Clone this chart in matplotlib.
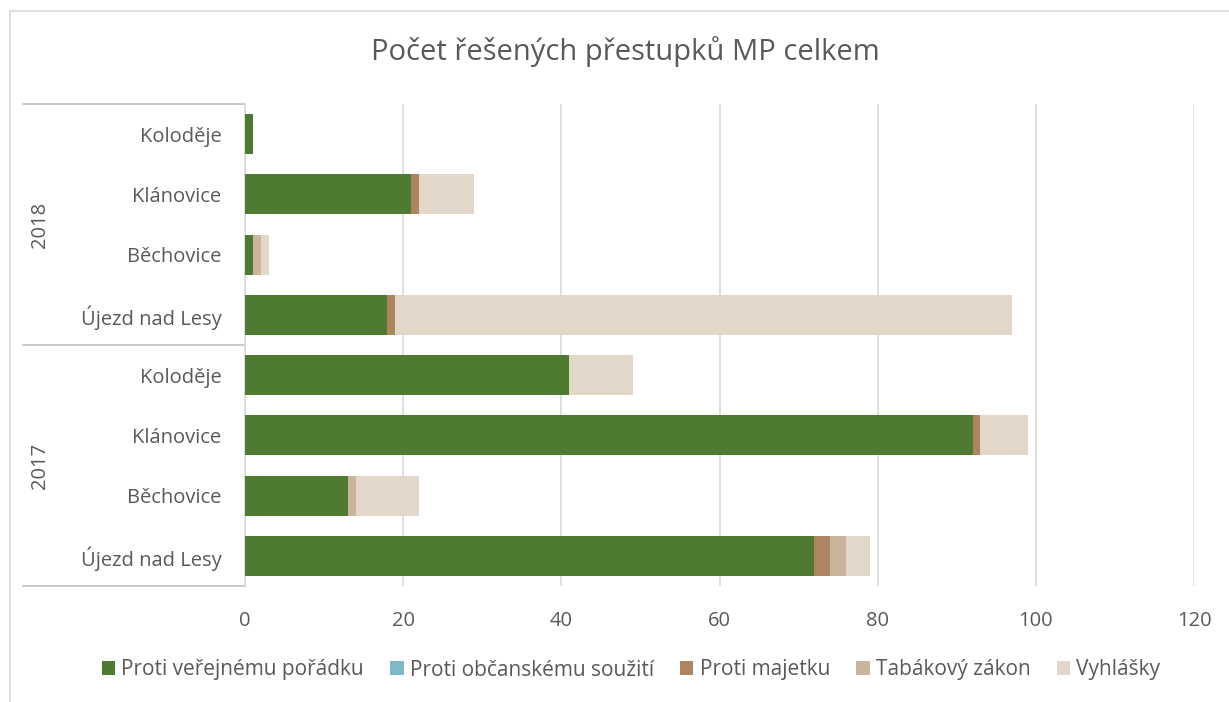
import matplotlib
matplotlib.use("Agg")
import matplotlib.pyplot as plt
from matplotlib.patches import Rectangle
import matplotlib.transforms as mtransforms
import numpy as np

plt.rcParams['font.family'] = ['Open Sans', 'DejaVu Sans']

years = ["2017", "2018"]
places = ["Újezd nad Lesy", "Běchovice", "Klánovice", "Koloděje"]
series_names = ["Proti veřejnému pořádku", "Proti občanskému soužití",
                "Proti majetku", "Tabákový zákon", "Vyhlášky"]
colors = ["#4E7A32", "#7DB9C9", "#AD8661", "#CBB49C", "#E3D7CA"]

# order: 2017 Újezd, Běchovice, Klánovice, Koloděje, 2018 Újezd, Běchovice, Klánovice, Koloděje
verejny_poradek = [72, 13, 92, 41, 18, 1, 21, 1]
obcanske_souziti = [0, 0, 0, 0, 0, 0, 0, 0]
majetek = [2, 0, 1, 0, 1, 0, 1, 0]
tabak = [2, 1, 0, 0, 0, 1, 0, 0]
vyhlasky = [3, 8, 6, 8, 78, 1, 7, 0]
series = [verejny_poradek, obcanske_souziti, majetek, tabak, vyhlasky]

W, H = 1229, 702
fig = plt.figure(figsize=(W/100, H/100), dpi=100)
ax = fig.add_axes([245/W, (H-586)/H, (1194-245)/W, (586-104)/H])

text_col = "#595959"
grid_col = "#D9D9D9"
fs = 14.5

n = len(verejny_poradek)
y = np.arange(n)
left = np.zeros(n)
for vals, name, c in zip(series, series_names, colors):
    v = np.array(vals, dtype=float)
    ax.barh(y, v, left=left, height=0.66, color=c, label=name, zorder=3)
    left += v

ax.set_xlim(0, 120)
ax.set_ylim(-0.5, n - 0.5)
ax.set_xticks(np.arange(0, 121, 20))
ax.xaxis.grid(True, color=grid_col, linewidth=1.2, zorder=0)
ax.set_yticks(y)
ax.set_yticklabels(places * 2)
ax.tick_params(axis='y', length=0, pad=17, labelsize=fs, labelcolor=text_col)
ax.tick_params(axis='x', length=0, pad=18, labelsize=fs, labelcolor=text_col)
for s in ['top', 'right', 'bottom']:
    ax.spines[s].set_visible(False)
ax.spines['left'].set_color(grid_col)
ax.spines['left'].set_linewidth(1.2)

# group axis separators
trans = mtransforms.blended_transform_factory(ax.transAxes, ax.transData)
x0 = -(245 - 23) / (1194 - 245)
for yy in [-0.5, 3.5, 7.5]:
    ax.plot([x0, 0], [yy, yy], transform=trans, color="#BFBFBF", lw=1.2, clip_on=False)
for gi, yr in enumerate(years):
    yc = gi * 4 + 1.5
    ax.text(-(245 - 40) / (1194 - 245), yc, yr, transform=trans, rotation=90,
            ha='center', va='center', fontsize=fs, color=text_col)

fig.suptitle("Počet řešených přestupků MP celkem", x=625/W, y=1 - 52/H, va='center',
             fontsize=21, color=text_col)

handles, labels = ax.get_legend_handles_labels()
fig.legend(handles, labels, loc='center', bbox_to_anchor=(631/W, 1 - 670/H), ncol=5,
           frameon=False, fontsize=15, handlelength=0.65, handleheight=0.65,
           handletextpad=0.3, columnspacing=1.25, labelcolor=text_col)

fig.add_artist(Rectangle((10/W, -0.1), 1.2, 1 - 11/H + 0.1, transform=fig.transFigure,
                         fill=False, edgecolor=grid_col, lw=1.2))

fig.savefig("out.png", dpi=100)
